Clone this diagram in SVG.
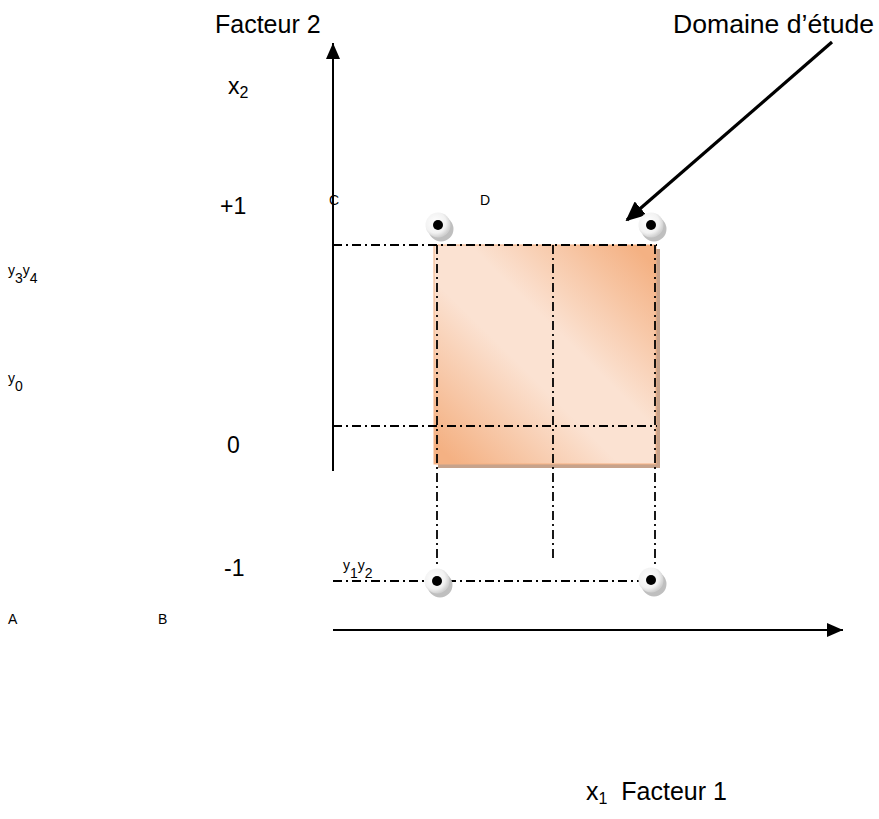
<svg xmlns="http://www.w3.org/2000/svg" width="879" height="819" viewBox="0 0 879 819">
<defs>
<style>
text{font-family:"Liberation Sans",Arial,sans-serif;fill:#000}
.big{font-size:25px}
.mid{font-size:23px}
.sm{font-size:14px}
.dd{fill:none;stroke:#000;stroke-width:1.8;stroke-dasharray:9 4 2 4}
.axis{fill:none;stroke:#000;stroke-width:2}
</style>
<linearGradient id="fillG" x1="0" y1="1" x2="1" y2="0">
<stop offset="0.05" stop-color="#f4b183"/>
<stop offset="0.42" stop-color="#fbe2d2"/>
<stop offset="0.58" stop-color="#fbe2d2"/>
<stop offset="0.95" stop-color="#f4b183"/>
</linearGradient>
<radialGradient id="ringG" cx="0.4" cy="0.4" r="0.6">
<stop offset="0" stop-color="#ffffff"/>
<stop offset="0.7" stop-color="#f2f2f2"/>
<stop offset="1" stop-color="#d0d0d0"/>
</radialGradient>
<marker id="arrAx" markerWidth="16" markerHeight="14" refX="16" refY="7" orient="auto" markerUnits="userSpaceOnUse">
<path d="M0,0 L16,7 L0,14 Z" fill="#000"/>
</marker>
<marker id="arrBig" markerWidth="20" markerHeight="18" refX="18" refY="9" orient="auto" markerUnits="userSpaceOnUse">
<path d="M0,0 L20,9 L0,18 Z" fill="#000"/>
</marker>
<g id="pt">
<circle cx="3" cy="4" r="12.5" fill="#bfbfbf"/>
<circle cx="0" cy="0" r="12.5" fill="url(#ringG)"/>
<circle cx="0" cy="0" r="5" fill="#000"/>
</g>
</defs>
<rect width="879" height="819" fill="#fff"/>

<g id="domaine">
<rect x="438" y="249" width="222" height="219" fill="#c7a38c"/>
<rect x="434" y="245" width="222" height="219" fill="url(#fillG)" stroke="#f4b183" stroke-width="1"/>
</g>

<g id="connectors">
<line class="axis" x1="333" y1="471" x2="333" y2="43" marker-end="url(#arrAx)"/>
<line class="axis" x1="333" y1="630" x2="843" y2="630" marker-end="url(#arrAx)"/>
<line class="dd" x1="333" y1="245" x2="657" y2="245"/>
<line class="dd" x1="333" y1="426" x2="657" y2="426"/>
<line class="dd" x1="333" y1="581" x2="652" y2="581"/>
<line class="dd" x1="437" y1="245" x2="437" y2="566"/>
<line class="dd" x1="553" y1="245" x2="553" y2="562"/>
<line class="dd" x1="655" y1="245" x2="655" y2="566"/>
<line x1="832" y1="42" x2="627" y2="220" stroke="#000" stroke-width="3.2" marker-end="url(#arrBig)"/>
</g>

<g id="points">
<use href="#pt" x="438" y="225"/>
<use href="#pt" x="651" y="225"/>
<use href="#pt" x="437" y="581"/>
<use href="#pt" x="651" y="580"/>
</g>

<g id="labels">
<text class="big" x="215" y="33">Facteur 2</text>
<text class="big" x="673" y="33" textLength="201" lengthAdjust="spacingAndGlyphs">Domaine d’étude</text>
<text class="mid" x="228" y="94">x<tspan font-size="16" dy="4">2</tspan></text>
<text class="mid" x="220" y="214">+1</text>
<text class="mid" x="227" y="453">0</text>
<text class="mid" x="224" y="576">-1</text>
<text class="sm" x="329" y="205">C</text>
<text class="sm" x="480" y="205">D</text>
<text class="sm" x="8" y="624">A</text>
<text class="sm" x="158" y="624">B</text>
<text class="sm" x="8" y="275">y<tspan dy="8">3</tspan><tspan dy="-8">y</tspan><tspan dy="8">4</tspan></text>
<text class="sm" x="8" y="383">y<tspan dy="8">0</tspan></text>
<text class="sm" x="343" y="570">y<tspan dy="8">1</tspan><tspan dy="-8">y</tspan><tspan dy="8">2</tspan></text>
<text class="big" x="586" y="800">x<tspan font-size="16" dy="4">1</tspan><tspan dy="-4" xml:space="preserve">  Facteur 1</tspan></text>
</g>
</svg>
